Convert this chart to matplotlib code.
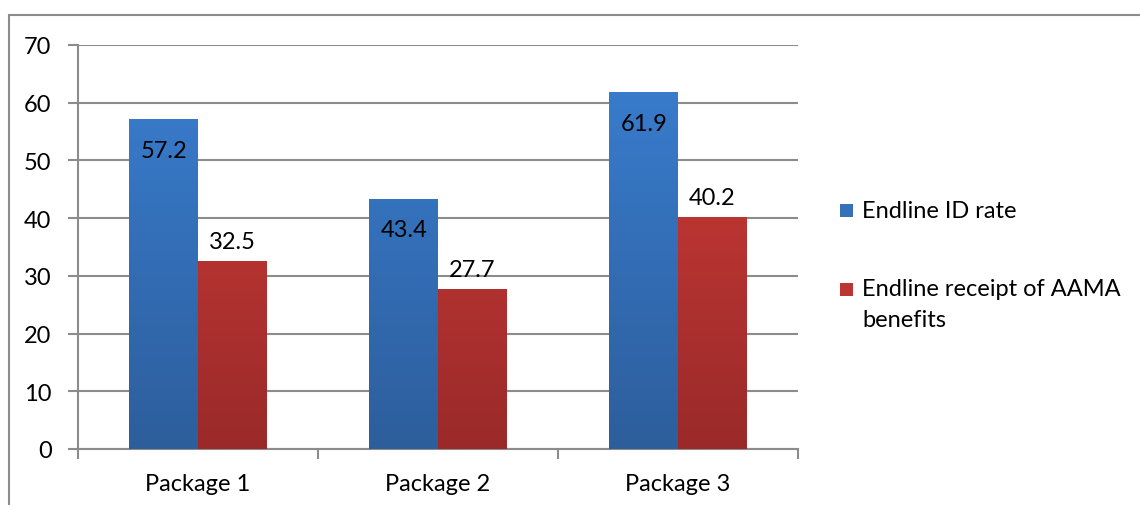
import matplotlib
matplotlib.use("Agg")
import matplotlib.pyplot as plt
import numpy as np
from matplotlib.patches import Rectangle
from matplotlib.colors import LinearSegmentedColormap

categories = ["Package 1", "Package 2", "Package 3"]
series_names = ["Endline ID rate", "Endline receipt of AAMA\nbenefits"]
id_rate = [57.2, 43.4, 61.9]
aama = [32.5, 27.7, 40.2]
yticks = [0, 10, 20, 30, 40, 50, 60, 70]

plt.rcParams['font.family'] = ['Lato', 'DejaVu Sans']
FS = 17

fig = plt.figure(figsize=(11.4, 5.06), dpi=100)
fig.patch.set_facecolor("white")
# outer frame (only top and left visible)
fig.add_artist(Rectangle((9/1140, -0.1), 1.2, 1 - 16/506 + 0.1, transform=fig.transFigure,
                         fill=False, edgecolor="#8c8c8c", linewidth=1.5))

ax = fig.add_axes([78/1140, 1 - 450/506, 720/1140, 404/506])
x = np.arange(len(categories))
w = 1 / 3.5  # bar width in category units (gap width 150%)

blue_cmap = LinearSegmentedColormap.from_list("b", ["#2d5e9c", "#3a7fd2"])
red_cmap = LinearSegmentedColormap.from_list("r", ["#9a2a29", "#d23d39"])

b1 = ax.bar(x - w/2, id_rate, w, color="#3570b8", zorder=3)
b2 = ax.bar(x + w/2, aama, w, color="#bb3533", zorder=3)

grad = np.linspace(0, 1, 256).reshape(-1, 1)
for bars, cmap in ((b1, blue_cmap), (b2, red_cmap)):
    for r in bars:
        x0, y0 = r.get_x(), r.get_y()
        ww = r.get_width()
        im = ax.imshow(grad, cmap=cmap, aspect="auto", origin="lower",
                       extent=(x0, x0 + ww, y0, y0 + 70), zorder=4)
        im.set_clip_path(r)

for r, v in zip(b1, id_rate):
    ax.text(r.get_x() + r.get_width()/2, v - 3.6, f"{v}", ha="center", va="top",
            fontsize=FS, color="black", zorder=6)
for r, v in zip(b2, aama):
    ax.text(r.get_x() + r.get_width()/2, v + 1.6, f"{v}", ha="center", va="bottom",
            fontsize=FS, color="black", zorder=6)

ax.set_xlim(-0.5, 2.5)
ax.set_ylim(0, 70)
ax.set_yticks(yticks)
ax.set_yticklabels([str(t) for t in yticks], fontsize=FS)
ax.yaxis.grid(True, color="#8c8c8c", linewidth=1.5, zorder=0)
ax.set_axisbelow(True)
ax.tick_params(axis="y", length=7, width=1.5, color="#8c8c8c", pad=12)
ax.set_xticks([-0.5, 0.5, 1.5, 2.5])
ax.set_xticklabels([])
ax.set_xticks(x, minor=True)
ax.set_xticklabels(categories, minor=True, fontsize=FS)
ax.tick_params(axis="x", which="major", length=7, width=1.5, color="#8c8c8c")
ax.tick_params(axis="x", which="minor", length=0, pad=17)
for s in ["top", "right"]:
    ax.spines[s].set_visible(False)
for s in ["left", "bottom"]:
    ax.spines[s].set_color("#8c8c8c")
    ax.spines[s].set_linewidth(1.5)

# legend
fig.add_artist(Rectangle((840/1140, 1 - 218/506), 13/1140, 13/506, transform=fig.transFigure,
                         facecolor="#3570b8", edgecolor="none"))
fig.text(862/1140, 1 - 211/506, series_names[0], fontsize=FS, va="center", ha="left")
fig.add_artist(Rectangle((840/1140, 1 - 297/506), 13/1140, 13/506, transform=fig.transFigure,
                         facecolor="#bb3533", edgecolor="none"))
fig.text(862/1140, 1 - 279/506, series_names[1], fontsize=FS, va="top", ha="left",
         linespacing=1.6)

fig.savefig("out.png", dpi=100, facecolor="white")
